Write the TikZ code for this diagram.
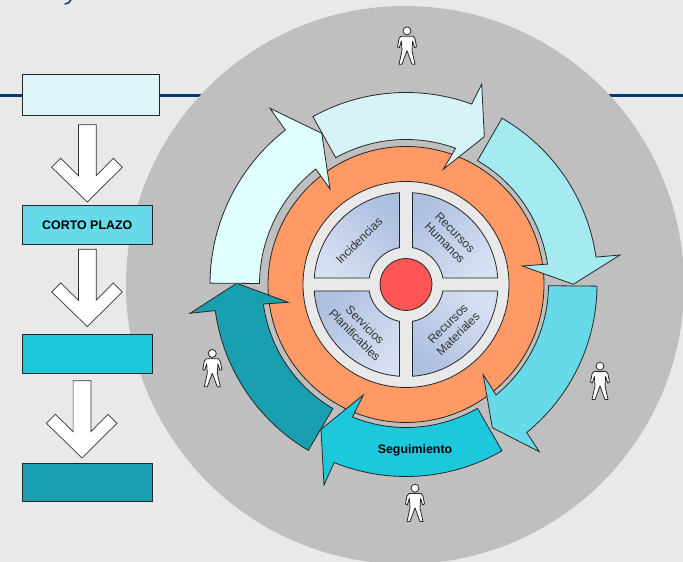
\documentclass[tikz,border=0pt]{standalone}
\usepackage{fontspec}
\setmainfont{Liberation Sans}
\definecolor{bgc}{HTML}{E9E9E9}
\definecolor{disc}{HTML}{BFBFBF}
\definecolor{navy}{HTML}{003A78}
\definecolor{orangec}{HTML}{FF9966}
\definecolor{redc}{HTML}{FF5555}
\definecolor{qdark}{HTML}{AEC0E0}
\definecolor{qlight}{HTML}{D6E0F2}
\definecolor{boxa}{HTML}{DCF6FA}
\definecolor{arra}{HTML}{E0FFFF}
\definecolor{arrb}{HTML}{D6F4F8}
\definecolor{arrc}{HTML}{A4EAF0}
\definecolor{arrd}{HTML}{66DAE8}
\definecolor{arre}{HTML}{1EC8DC}
\definecolor{arrf}{HTML}{1A9FB0}
\tikzset{
  outl/.style={draw=black!85,line width=0.8pt,line join=miter},
  qlabel/.style={font=\fontsize{12}{14.5}\selectfont,text=black!80,align=center,inner sep=0pt},
  blabel/.style={font=\fontsize{12.4}{14}\selectfont\bfseries,text=black,inner sep=0pt},
  person/.pic={
    \fill[white,draw=black!85,line width=0.8pt,line join=round]
      (-6,-9.5) -- (6,-9.5) -- (8,-12) -- (9.5,-20) -- (7.7,-21) -- (5.6,-14.5)
      -- (5,-24) -- (8,-37.5) -- (5,-37.5) -- (0,-24) -- (-5,-37.5) -- (-8,-37.5)
      -- (-5,-24) -- (-5.6,-14.5) -- (-7.7,-21) -- (-9.5,-20) -- (-8,-12) -- cycle;
    \fill[white,draw=black!85,line width=0.8pt] (0,-4.2) circle[radius=4];
  },
  downarrow/.pic={
    \fill[white,draw=black!80,line width=0.7pt,line join=miter]
      (-8.9,0) -- (8.9,0) -- (8.9,-51) -- (26,-33.6) -- (35,-42.6) -- (0,-77.3)
      -- (-35.6,-42.6) -- (-26.6,-33.6) -- (-8.9,-51) -- cycle;
  },
  barbox/.style={outl,rectangle,minimum height=38.7pt,inner sep=0pt,outer sep=0pt,anchor=north west}
}
\newcommand{\ringarrow}[8]{%
  \fill[#1,outl] (#2:#4) arc[start angle=#2,end angle=#3,radius=#4]
    -- #6 -- #7 -- #8 -- (#3:#5) arc[start angle=#3,end angle=#2,radius=#5] -- cycle;}
\newcommand{\quadrant}[3]{%
  \path[outl,shade,top color=qdark,bottom color=qlight,shading angle=#3]
    (#1+#2*4.05:92pt) arc[start angle=#1+#2*4.05,end angle=#1+#2*85.95,radius=92pt]
    -- (#1+#2*80:37.4pt) arc[start angle=#1+#2*80,end angle=#1+#2*10,radius=37.4pt] -- cycle;}
\begin{document}
\begin{tikzpicture}[x=1pt,y=1pt]
\useasboundingbox (0,0) rectangle (683,562);
\fill[bgc] (0,0) rectangle (683,562);
\draw[navy,line width=2.4pt] (0,466.3) -- (683,466.3);
\draw[navy,line width=1.5pt,line cap=round] (65,558) .. controls (68,558) and (70,560) .. (70.7,562);
\begin{scope}
\clip (0,0) rectangle (683,562);
\fill[disc] (405,277) circle[radius=279];
\end{scope}
% left column
\node[barbox,fill=boxa,minimum width=137pt,minimum height=41pt] (b1) at (22,488) {};
\node[barbox,fill=arrd,minimum width=130.5pt] (b2) at (22,356.3) {};
\node[blabel] (b2t) at (b2.center) {CORTO PLAZO};
\node[barbox,fill=arre,minimum width=130pt] (b3) at (22,227.3) {};
\node[barbox,fill=arrf,minimum width=130pt] (b4) at (22,99) {};
\pic at (87.3,437.3) {downarrow};
\pic at (87.3,312.7) {downarrow};
\pic at (82,181.3) {downarrow};
% persons
\pic at (407,535.3) {person};
\pic at (212.3,212.7) {person};
\pic at (600,200) {person};
\pic at (415,78) {person};
% wheel
\begin{scope}[shift={(406,277.5)}]
\fill[orangec,outl] (0,0) circle[radius=138];
\fill[bgc,outl] (0,0) circle[radius=103];
\quadrant{90}{1}{-45}
\quadrant{0}{1}{45}
\quadrant{180}{1}{45}
\quadrant{270}{1}{135}
\fill[redc,outl] (0,0) circle[radius=26];
\ringarrow{arrb}{119}{70}{192pt}{145pt}{(75.7,200.5)}{(78.3,147.8)}{(37.3,115.2)}
\ringarrow{arrc}{60}{8.2}{192pt}{143pt}{(214,29.5)}{(167.3,0.2)}{(116.3,18.5)}
\ringarrow{arrd}{-0.5}{-50.8}{191pt}{142.5pt}{(133.3,-167.2)}{(86.3,-143.2)}{(77.3,-90.5)}
\ringarrow{arre}{-60}{-112}{192pt}{143pt}{(-82,-200.5)}{(-85,-144.8)}{(-42.7,-110.5)}
\ringarrow{arrf}{-120.5}{-172.2}{192.5pt}{144pt}{(-216,-28.8)}{(-169.3,1.2)}{(-117.7,-17.8)}
\ringarrow{arra}{179.6}{128}{196pt}{146.5pt}{(-136,176.2)}{(-84.3,151.2)}{(-76,95.5)}
\node[qlabel,rotate=45] (q1) at (-47,43.8) {Incidencias};
\node[qlabel,rotate=-45] (q2) at (44,46.5) {Recursos\\Humanos};
\node[qlabel,rotate=45] (q3) at (47,-44.5) {Recursos\\Materiales};
\node[qlabel,rotate=-45] (q4) at (-46,-45.5) {Servicios\\Planificables};
\node[blabel] (seg) at (9,-166) {Seguimiento};
\end{scope}
\end{tikzpicture}
\end{document}
